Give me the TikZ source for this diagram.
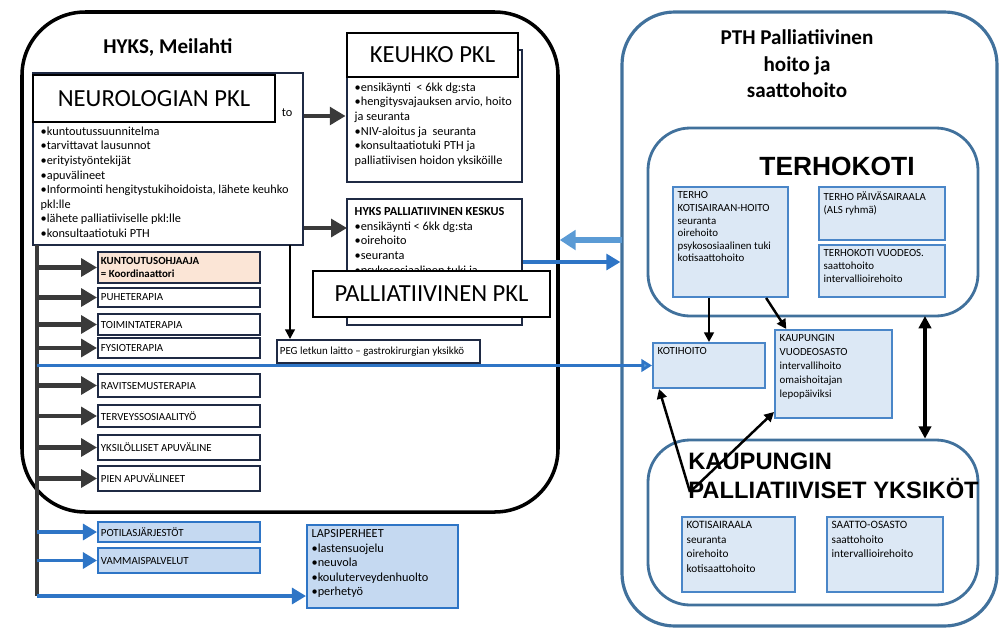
\documentclass[tikz,border=0pt]{standalone}
\usepackage{fontspec}
\setmainfont{Carlito}
\newfontfamily\arialfont{Liberation Sans}
\usetikzlibrary{fit,arrows.meta}

\definecolor{navy}{HTML}{1F2A44}
\definecolor{darkarr}{HTML}{3A3A3A}
\definecolor{peach}{HTML}{FBE5D6}
\definecolor{paleblue}{HTML}{DCE8F5}
\definecolor{midblue}{HTML}{C5D9F1}
\definecolor{boxblue}{HTML}{4A86C8}
\definecolor{steel}{HTML}{41719C}
\definecolor{arrblue}{HTML}{2E75C6}
\definecolor{lightarr}{HTML}{5B9BD5}

\begin{document}
\begin{tikzpicture}
[x=0.02cm,y=-0.02cm,every node/.style={inner sep=0pt},
 hyksarea/.style={draw=black,line width=2pt,rounded corners=36pt},
 ptharea/.style={draw=steel,line width=1.8pt,rounded corners=30pt},
 subarea/.style={draw=steel,line width=1.6pt,rounded corners=24pt},
 nbox/.style={draw=navy,line width=1.6pt,fill=white},
 sbox/.style={draw=navy,line width=1.1pt,fill=white},
 bbox/.style={draw=boxblue,line width=1.1pt,fill=paleblue},
 title/.style={draw=black,line width=0.8pt,fill=white},
 big/.style={anchor=center,font=\fontsize{14}{16}\selectfont},
 txt/.style={anchor=north west,align=left,inner sep=2.5pt,font=\fontsize{7}{8.3}\selectfont},
 stxt/.style={anchor=north west,align=left,inner sep=3pt,font=\fontsize{6.2}{7.2}\selectfont},
 one/.style={anchor=west,align=left,inner sep=2pt,font=\fontsize{6.2}{7.2}\selectfont},
 darr/.style={draw=darkarr,line width=2.6pt,-{Triangle[length=9pt,width=10pt]}},
 barr/.style={draw=arrblue,line width=2pt,-{Triangle[length=8pt,width=9pt]}},
 karr/.style={draw=black,line width=1.4pt,-{Triangle[length=5.5pt,width=5.5pt]}}]
\useasboundingbox (0,0) rectangle (1001,636);

% the two main areas
\node[hyksarea,fit={(22,12) (558,512)}] (hyks) {};
\node[anchor=north west,font=\bfseries\fontsize{12}{14}\selectfont] (hykst) at (103,38) {HYKS, Meilahti};
\node[ptharea,fit={(622,12) (997,626)}] (pth) {};
\node[anchor=north,align=center,font=\bfseries\fontsize{12}{15.3}\selectfont] (ptht) at (797,29) {PTH Palliatiivinen\\hoito ja\\saattohoito};

% TERHOKOTI
\node[subarea,fit={(648,128) (978,316)}] (terho) {};
\node[anchor=base,font=\arialfont\bfseries\fontsize{15}{17}\selectfont] (terhot) at (837,175) {TERHOKOTI};
\node[bbox,fit={(673,187) (788,297)},label={[stxt]north west:{TERHO\\KOTISAIRAAN-HOITO\\seuranta\\oirehoito\\psykososiaalinen tuki\\kotisaattohoito}}] (kotisair) {};
\node[bbox,fit={(819,187) (945,240)},label={[stxt]north west:{TERHO PÄIVÄSAIRAALA\\(ALS ryhmä)}}] (paiva) {};
\node[bbox,fit={(819,245) (945,297)},label={[stxt]north west:{TERHOKOTI VUODEOS.\\saattohoito\\intervallioirehoito}}] (vuode) {};

% KAUPUNGIN yksikot
\node[subarea,fit={(648,440) (978,605)}] (kaup) {};
\node[anchor=north west,align=left,font=\arialfont\bfseries\fontsize{13.5}{16.5}\selectfont] (kaupt) at (688,453) {KAUPUNGIN\\PALLIATIIVISET YKSIKÖT};
\node[bbox,fit={(682,517) (795,592)},label={[stxt,font=\fontsize{6.4}{8.2}\selectfont]north west:{KOTISAIRAALA\\seuranta\\oirehoito\\kotisaattohoito}}] (ksair) {};
\node[bbox,fit={(827,517) (943,592)},label={[stxt,font=\fontsize{6.4}{8.2}\selectfont]north west:{SAATTO-OSASTO\\saattohoito\\intervallioirehoito}}] (saatto) {};

\node[bbox,fit={(653,343) (765,388)},label={[stxt]north west:KOTIHOITO}] (koti) {};
\node[bbox,fit={(775,330) (892,418)},label={[stxt,font=\fontsize{6.2}{8}\selectfont]north west:{KAUPUNGIN\\VUODEOSASTO\\intervallihoito\\omaishoitajan\\lepopäiviksi}}] (kvuode) {};

% neurologian pkl
\node[nbox,fit={(33,73) (303,245)}] (neuro) {};
\node[txt,anchor=base east] (neurorest) at (297,116) {to};
\node[txt] (neurolist) at (36,122) {\textbullet kuntoutussuunnitelma\\\textbullet tarvittavat lausunnot\\\textbullet erityistyöntekijät\\\textbullet apuvälineet\\\textbullet Informointi hengitystukihoidoista, lähete keuhko\\pkl:lle\\\textbullet lähete palliatiiviselle pkl:lle\\\textbullet konsultaatiotuki PTH};
\node[title,fit={(33,75) (275,122)},label={[big]center:NEUROLOGIAN PKL}] (neurolbl) {};

% keuhko pkl
\node[nbox,fit={(347,50) (522,182)}] (keuhko) {};
\node[txt] (keuhkot) at (350,78) {\textbullet ensikäynti\ \ < 6kk dg:sta\\\textbullet hengitysvajauksen arvio, hoito\\ja seuranta\\\textbullet NIV-aloitus ja\ \ seuranta\\\textbullet konsultaatiotuki PTH ja\\palliatiivisen hoidon yksiköille};
\node[title,fit={(347,33) (518,77)},label={[big]center:KEUHKO PKL}] (keuhkolbl) {};

% palliatiivinen
\node[nbox,fit={(347,199) (522,325)}] (pal) {};
\node[txt] (palt) at (350,203) {\textbf{HYKS PALLIATIIVINEN KESKUS}\\\textbullet ensikäynti < 6kk dg:sta\\\textbullet oirehoito\\\textbullet seuranta\\\textbullet psykososiaalinen tuki ja};
\node[title,fit={(313,271) (550,317)},label={[big]center:PALLIATIIVINEN PKL}] (pallbl) {};

\node[sbox,fit={(277,340) (480,363)},label={[one]west:PEG letkun laitto -- gastrokirurgian yksikkö}] (peg) {};

% terapiat
\node[sbox,fill=peach,fit={(98,252) (260,283)},label={[one]west:{\textbf{KUNTOUTUSOHJAAJA}\\\textbf{= Koordinaattori}}}] (kunto) {};
\node[sbox,fit={(98,288) (260,307)},label={[one]west:PUHETERAPIA}] (puhe) {};
\node[sbox,fit={(98,314) (260,335)},label={[one]west:TOIMINTATERAPIA}] (toim) {};
\node[sbox,fit={(98,338) (260,358)},label={[one]west:FYSIOTERAPIA}] (fysio) {};
\node[sbox,fit={(98,374) (260,397)},label={[one]west:RAVITSEMUSTERAPIA}] (rav) {};
\node[sbox,fit={(98,405) (260,427)},label={[one]west:TERVEYSSOSIAALITYÖ}] (terv) {};
\node[sbox,fit={(98,435) (260,460)},label={[one]west:YKSILÖLLISET APUVÄLINE}] (yksi) {};
\node[sbox,fit={(98,466) (260,491)},label={[one]west:PIEN APUVÄLINEET}] (pien) {};
\node[bbox,draw=arrblue,fill=midblue,fit={(98,522) (260,542)},label={[one]west:POTILASJÄRJESTÖT}] (poti) {};
\node[bbox,draw=arrblue,fill=midblue,fit={(98,548) (260,573)},label={[one]west:VAMMAISPALVELUT}] (vamm) {};
\node[bbox,draw=arrblue,fill=midblue,fit={(307,525) (458,608)},label={[txt,inner sep=3pt]north west:{LAPSIPERHEET\\\textbullet lastensuojelu\\\textbullet neuvola\\\textbullet kouluterveydenhuolto\\\textbullet perhetyö}}] (lapsi) {};

% connectors
\coordinate (vtop) at (37,245);
\coordinate (vbot) at (37,596);
\draw[draw=darkarr,line width=2.6pt] (vtop) -- (vbot);
\foreach \b in {kunto,puhe,toim,fysio,rav,terv,yksi,pien}
\draw[darr] (vtop |- \b.west) -- (\b.west);
\foreach \b in {poti,vamm}
\draw[barr] (vtop |- \b.west) -- (\b.west);
\draw[barr] (vbot) -- (vbot -| lapsi.west);
\draw[barr,line width=1.6pt,-{Triangle[length=6pt,width=7pt,fill=lightarr]}] (vtop |- koti.west) -- (koti.west);

\draw[darr] (neuro.east |- keuhko.west) -- (keuhko.west);
\coordinate (palin) at (347,228);
\draw[darr] (neuro.east |- palin) -- (palin);
\coordinate (pegdown) at (290,245);
\draw[karr,line width=1.2pt] (pegdown) -- (pegdown |- peg.north);

\draw[barr] (pal.east) -- (pal.east -| pth.west);
\coordinate (back) at (622,240);
\draw[draw=lightarr,line width=3pt,-{Triangle[length=9pt,width=11pt]}] (back) -- (back -| hyks.east);

\draw[karr] (koti.north |- kotisair.south) -- (koti.north);
\draw[karr] ([xshift=-13pt]kotisair.south east) -- ([xshift=7pt]kvuode.north west);
\coordinate (kaupfrom) at (690,492);
\draw[karr] (kaupfrom) -- ([xshift=4pt]koti.south west);
\draw[karr] (kaupfrom) -- ([yshift=4pt]kvuode.south west);
\coordinate (dbl) at (925,316);
\draw[karr,line width=2pt,{Triangle[length=7pt,width=7pt]}-{Triangle[length=7pt,width=7pt]}] (dbl) -- (dbl |- kaup.north);
\end{tikzpicture}
\end{document}
